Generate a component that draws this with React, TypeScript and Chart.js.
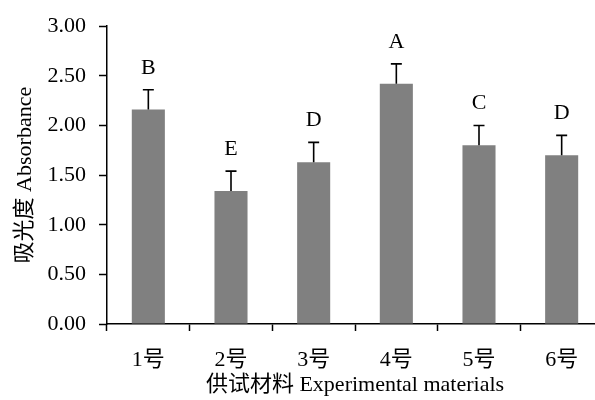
import React, { useEffect, useRef } from "react";
import { Chart, registerables } from "chart.js";

Chart.register(...registerables);

const categories = ["1号", "2号", "3号", "4号", "5号", "6号"];
const means = [2.16, 1.34, 1.63, 2.42, 1.8, 1.7];
const errors = [0.2, 0.2, 0.2, 0.2, 0.2, 0.2];
const letters = ["B", "E", "D", "A", "C", "D"];
const yTicks = [0, 0.5, 1, 1.5, 2, 2.5, 3];

const FONT = "'Liberation Serif', 'Times New Roman', 'Noto Sans CJK SC', serif";
const FS = 22;

const errorPlugin = {
  id: "errorBars",
  afterDatasetsDraw(chart: any) {
    const ctx = chart.ctx;
    const xs = chart.scales.x;
    const ys = chart.scales.y;
    ctx.save();
    ctx.strokeStyle = "#000";
    ctx.lineWidth = 1.6;
    ctx.fillStyle = "#000";
    ctx.font = `${FS}px ${FONT}`;
    ctx.textAlign = "center";
    ctx.textBaseline = "middle";
    means.forEach((m, i) => {
      const x = xs.getPixelForValue(i);
      const y0 = ys.getPixelForValue(m);
      const y1 = ys.getPixelForValue(m + errors[i]);
      ctx.beginPath();
      ctx.moveTo(x, y0);
      ctx.lineTo(x, y1);
      ctx.moveTo(x - 5.5, y1);
      ctx.lineTo(x + 5.5, y1);
      ctx.stroke();
      ctx.fillText(letters[i], x, y1 - 22);
    });
    ctx.restore();
  },
};

export default function App() {
  const ref = useRef<HTMLCanvasElement>(null);
  useEffect(() => {
    if (!ref.current) return;
    const chart = new Chart(ref.current, {
      type: "bar",
      data: {
        labels: categories,
        datasets: [
          {
            data: means,
            backgroundColor: "#808080",
            borderWidth: 0,
            barPercentage: 0.4,
            categoryPercentage: 1,
          },
        ],
      },
      options: {
        animation: false,
        responsive: false,
        layout: { padding: { left: 12.4, right: 1, top: 25, bottom: 1.8 } },
        plugins: { legend: { display: false }, tooltip: { enabled: false } },
        scales: {
          x: {
            grid: {
              display: true,
              drawOnChartArea: false,
              drawTicks: true,
              tickLength: 7,
              tickColor: "#000",
              tickWidth: 1.5,
              offset: true,
            },
            border: { display: true, color: "#000", width: 1.5 },
            ticks: {
              color: "#000",
              font: { family: FONT, size: FS },
              padding: 15.8,
              maxRotation: 0,
            },
            title: {
              display: true,
              text: "供试材料 Experimental materials",
              color: "#000",
              font: { family: FONT, size: FS },
              padding: { top: -17.2, bottom: 0 },
            },
          },
          y: {
            min: 0,
            max: 3,
            afterBuildTicks: (axis: any) => {
              axis.ticks = yTicks.map((v) => ({ value: v }));
            },
            grid: {
              display: true,
              drawOnChartArea: false,
              drawTicks: true,
              tickLength: 8,
              tickColor: "#000",
              tickWidth: 1.5,
            },
            border: { display: true, color: "#000", width: 1.5 },
            ticks: {
              color: "#000",
              font: { family: FONT, size: FS },
              padding: 13,
              callback: (v: any) => Number(v).toFixed(2),
            },
            title: {
              display: true,
              text: "吸光度 Absorbance",
              color: "#000",
              font: { family: FONT, size: FS },
              padding: { top: 0, bottom: -4.3 },
            },
          },
        },
      },
      plugins: [errorPlugin],
    });
    return () => chart.destroy();
  }, []);
  return (
    <div
      style={{
        position: "absolute",
        left: 0,
        top: 0,
        width: 595,
        height: 400,
        overflow: "hidden",
        background: "#fff",
      }}
    >
      <canvas ref={ref} width={604} height={400} style={{ display: "block" }} />
    </div>
  );
}
